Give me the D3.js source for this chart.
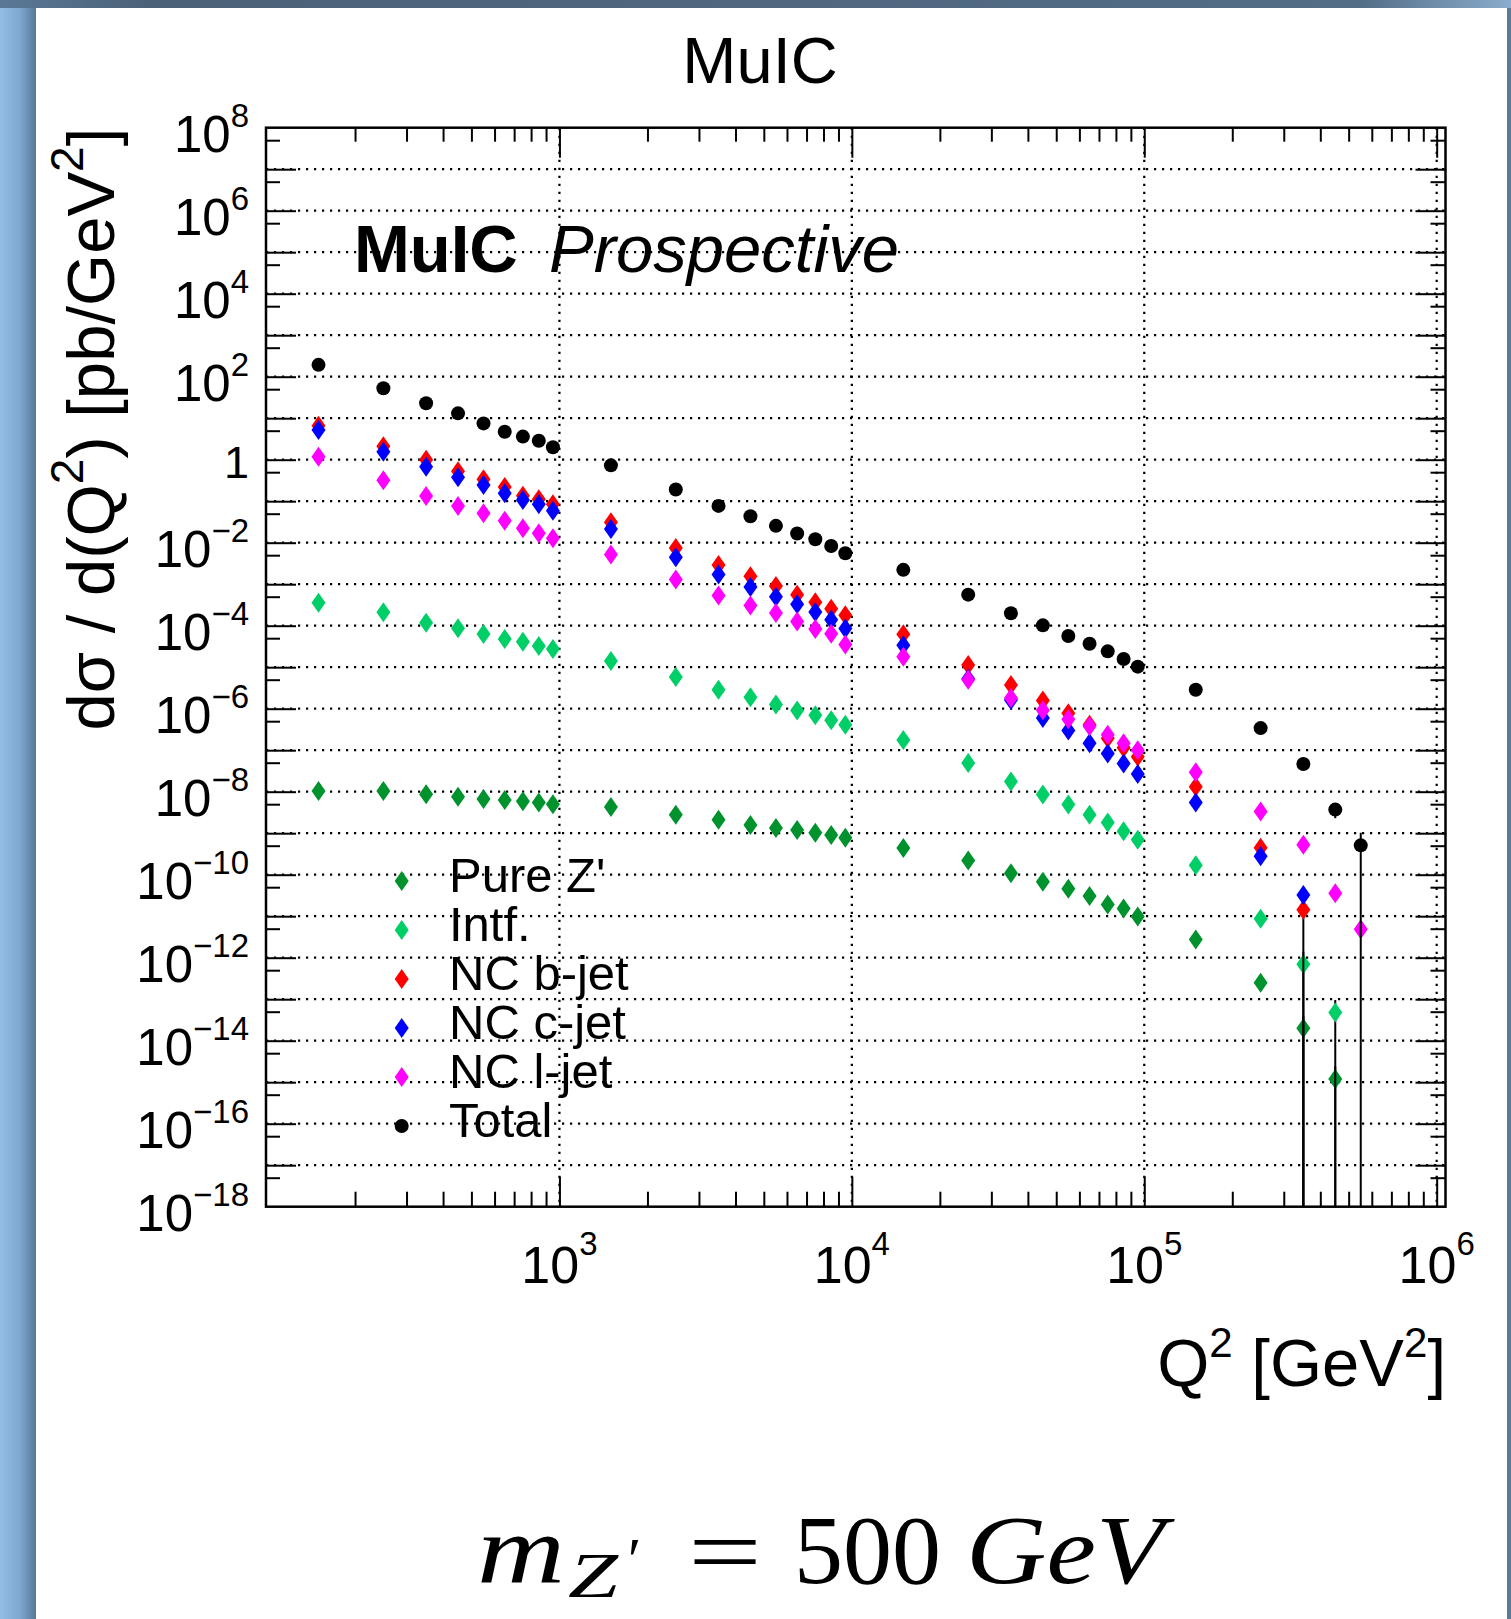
<!DOCTYPE html>
<html>
<head>
<meta charset="utf-8">
<script src="https://cdn.jsdelivr.net/npm/d3@7"></script>
<style>
  html, body { margin: 0; padding: 0; background: #fff; }
  svg { display: block; }
  text { font-family: "Liberation Sans", Arial, Helvetica, sans-serif; fill: #000; }
  .serif { font-family: "Liberation Serif", "Times New Roman", serif; }
</style>
</head>
<body>
<svg id="chart" width="1511" height="1619"></svg>
<script>
// Q^2 bin centres [GeV^2]
const q2 = [150, 250, 350, 450, 550, 650, 750, 850, 950,
            1500, 2500, 3500, 4500, 5500, 6500, 7500, 8500, 9500,
            15000, 25000, 35000, 45000, 55000, 65000, 75000, 85000, 95000,
            150000, 250000, 350000, 450000, 550000];

// dsigma/dQ^2 [pb/GeV^2] per contribution (null = empty bin)
const pureZ = [1.04e-8, 1.04e-8, 8.65e-9, 7.6e-9, 6.67e-9, 6.3e-9, 5.87e-9, 5.5e-9, 4.97e-9,
               4.25e-9, 2.79e-9, 2.11e-9, 1.57e-9, 1.33e-9, 1.19e-9, 1.03e-9, 9.05e-10, 7.8e-10,
               4.4e-10, 2.19e-10, 1.08e-10, 6.8e-11, 4.6e-11, 3.05e-11, 1.92e-11, 1.53e-11, 9.8e-12,
               2.75e-12, 2.48e-13, 2.0e-14, 1.2e-15, null];
const intf = [3.58e-4, 2.1e-4, 1.18e-4, 8.65e-5, 6.3e-5, 4.8e-5, 4.11e-5, 3.24e-5, 2.75e-5,
              1.42e-5, 5.8e-6, 2.88e-6, 1.89e-6, 1.26e-6, 9.1e-7, 6.96e-7, 5.28e-7, 4.1e-7,
              1.75e-7, 4.89e-8, 1.77e-8, 8.6e-9, 4.94e-9, 2.79e-9, 1.82e-9, 1.12e-9, 7.0e-10,
              1.7e-10, 8.65e-12, 7.0e-13, 4.8e-14, null];
const ncB = [6.6, 2.1, 1.0, 0.53, 0.34, 0.22, 0.136, 0.112, 0.085,
             0.031, 0.0075, 0.0029, 0.00155, 9.1e-4, 5.6e-4, 3.65e-4, 2.55e-4, 1.78e-4,
             6.2e-5, 1.13e-5, 3.7e-6, 1.58e-6, 7.8e-7, 4.1e-7, 1.95e-7, 1.15e-7, 7.0e-8,
             1.31e-8, 4.45e-10, 1.43e-11, null, null];
const ncC = [5.2, 1.56, 0.68, 0.377, 0.245, 0.155, 0.107, 0.085, 0.059,
             0.0215, 0.00448, 0.00172, 8.55e-4, 5.0e-4, 3.29e-4, 2.15e-4, 1.4e-4, 8.6e-5,
             3.39e-5, 5.3e-6, 1.63e-6, 6.0e-7, 2.98e-7, 1.47e-7, 8.3e-8, 4.8e-8, 2.67e-8,
             5.5e-9, 2.8e-10, 3.26e-11, null, null];
const ncL = [1.18, 0.32, 0.133, 0.0766, 0.051, 0.034, 0.0222, 0.017, 0.0128,
             0.0052, 0.0013, 5.37e-4, 3.08e-4, 2.02e-4, 1.26e-4, 8.28e-5, 6.4e-5, 3.54e-5,
             1.79e-5, 5.0e-6, 1.81e-6, 9.2e-7, 5.6e-7, 3.8e-7, 2.35e-7, 1.47e-7, 1.0e-7,
             2.93e-8, 3.33e-9, 5.3e-10, 3.58e-11, 4.87e-12];
const total = [193, 52.5, 22.9, 13.1, 7.5, 4.7, 3.6, 2.87, 2.0,
               0.73, 0.192, 0.077, 0.0435, 0.0255, 0.0167, 0.0121, 0.0083, 0.00555,
               0.00222, 5.6e-4, 2.0e-4, 1.02e-4, 5.65e-5, 3.68e-5, 2.41e-5, 1.58e-5, 1.03e-5,
               2.87e-6, 3.41e-7, 4.65e-8, 3.7e-9, 5.1e-10];

// statistical uncertainties (only the sparsely populated high-Q^2 bins are significant)
const pureZErr = [0,0,0,0,0,0,0,0,0, 0,0,0,0,0,0,0,0,0, 0,0,0,0,0,0,0,0,0, 0,0, 2.0e-14, 1.2e-15, 0];
const intfErr  = [0,0,0,0,0,0,0,0,0, 0,0,0,0,0,0,0,0,0, 0,0,0,0,0,0,0,0,0, 0,0, 7.0e-13, 4.8e-14, 0];
const ncBErr   = [0,0,0,0,0,0,0,0,0, 0,0,0,0,0,0,0,0,0, 0,0,0,0,0,0,0,0,0, 0,0, 1.43e-11, 0, 0];
const totalErr = [0,0,0,0,0,0,0,0,0, 0,0,0,0,0,0,0,0,0, 0,0,0,0,0,0,0,0,0, 0,0, 0, 1.4e-9, 5.1e-10];

const seriesNames  = ["Pure Z'", "Intf.", "NC b-jet", "NC c-jet", "NC l-jet", "Total"];
const seriesColors = ["#00922c", "#00cf68", "#ff0000", "#0000ff", "#ff00ff", "#000000"];

// axis labels: powers of ten
const yLabelExponents = [8, 6, 4, 2, 0, -2, -4, -6, -8, -10, -12, -14, -16, -18];
const xLabelExponents = [3, 4, 5, 6];

const series = [
  { values: pureZ, err: pureZErr, shape: "diamond" },
  { values: intf,  err: intfErr,  shape: "diamond" },
  { values: ncB,   err: ncBErr,   shape: "diamond" },
  { values: ncC,   err: null,     shape: "diamond" },
  { values: ncL,   err: null,     shape: "diamond" },
  { values: total, err: totalErr, shape: "circle" }
].map((s, i) => ({ ...s, name: seriesNames[i], color: seriesColors[i] }));

const svg = d3.select("#chart");
const W = 1511, H = 1619;

// ---- slide background around the figure ----
const defs = svg.append("defs");
const gl = defs.append("linearGradient").attr("id", "leftStrip").attr("x1", 0).attr("x2", 1).attr("y1", 0).attr("y2", 0);
gl.append("stop").attr("offset", "0%").attr("stop-color", "#93bde4");
gl.append("stop").attr("offset", "55%").attr("stop-color", "#7ea8d0");
gl.append("stop").attr("offset", "100%").attr("stop-color", "#587998");
const gt = defs.append("linearGradient").attr("id", "topStrip").attr("x1", 0).attr("x2", 1).attr("y1", 0).attr("y2", 0);
gt.append("stop").attr("offset", "0%").attr("stop-color", "#5a7896");
gt.append("stop").attr("offset", "10%").attr("stop-color", "#4b6178");
gt.append("stop").attr("offset", "90%").attr("stop-color", "#536d86");
gt.append("stop").attr("offset", "100%").attr("stop-color", "#8aaccd");

svg.append("rect").attr("width", W).attr("height", H).attr("fill", "#5b7a98");
svg.append("rect").attr("x", 0).attr("y", 0).attr("width", 36).attr("height", H).attr("fill", "url(#leftStrip)");
svg.append("rect").attr("x", 0).attr("y", 0).attr("width", W).attr("height", 8).attr("fill", "url(#topStrip)");
svg.append("rect").attr("x", 36).attr("y", 8).attr("width", 1471).attr("height", H - 8).attr("fill", "#ffffff");

// ---- plot frame and scales ----
const frame = { left: 266, right: 1445.5, top: 127.7, bottom: 1206.7 };
const x = d3.scaleLog().domain([99.2, 1.072e6]).range([frame.left, frame.right]);
const y = d3.scaleLog().domain([1e-18, 1e8]).range([frame.bottom, frame.top]);

// dotted grid at every decade
const gridY = d3.range(-17, 8).map(e => Math.pow(10, e));
const gridX = [1e3, 1e4, 1e5, 1e6];
const grid = svg.append("g").attr("stroke", "#000").attr("stroke-width", 2.2).attr("stroke-dasharray", "2.2 5.8");
grid.selectAll("line.gy").data(gridY).join("line").attr("class", "gy")
  .attr("x1", frame.left).attr("x2", frame.right)
  .attr("y1", d => y(d)).attr("y2", d => y(d));
grid.selectAll("line.gx").data(gridX).join("line").attr("class", "gx")
  .attr("x1", d => x(d)).attr("x2", d => x(d))
  .attr("y1", frame.top).attr("y2", frame.bottom);

// tick marks on all four sides, pointing inwards
const majY = d3.range(-17, 8).map(e => Math.pow(10, e));
const minY = d3.range(-18, 8).map(e => 5 * Math.pow(10, e));
const majX = [1e3, 1e4, 1e5, 1e6];
const minX = [];
for (let n = 2; n <= 5; n++) for (let m = 2; m <= 9; m++) minX.push(m * Math.pow(10, n));

function tickLayer(axis, values, size, tr) {
  svg.append("g").attr("transform", tr)
    .call(axis.tickValues(values).tickSize(size).tickFormat(""))
    .call(g => {
      g.select(".domain").remove();
      g.selectAll("line").attr("stroke", "#000").attr("stroke-width", 2);
      g.selectAll("text").remove();
    });
}
tickLayer(d3.axisLeft(y),   majY, -30, `translate(${frame.left},0)`);
tickLayer(d3.axisLeft(y),   minY, -14, `translate(${frame.left},0)`);
tickLayer(d3.axisRight(y),  majY, -30, `translate(${frame.right},0)`);
tickLayer(d3.axisRight(y),  minY, -15, `translate(${frame.right},0)`);
tickLayer(d3.axisBottom(x), majX, -30, `translate(0,${frame.bottom})`);
tickLayer(d3.axisBottom(x), minX, -15, `translate(0,${frame.bottom})`);
tickLayer(d3.axisTop(x),    majX, -30, `translate(0,${frame.top})`);
tickLayer(d3.axisTop(x),    minX, -14, `translate(0,${frame.top})`);

svg.append("rect")
  .attr("x", frame.left).attr("y", frame.top)
  .attr("width", frame.right - frame.left).attr("height", frame.bottom - frame.top)
  .attr("fill", "none").attr("stroke", "#000").attr("stroke-width", 2.5);

// ---- tick labels ----
const supText = e => (e < 0 ? "\u2212" + (-e) : String(e));
yLabelExponents.forEach(e => {
  const t = svg.append("text").attr("x", 249).attr("text-anchor", "end");
  if (e === 0) {
    t.attr("y", y(1) + 18.5).attr("font-size", 45).text("1");
  } else {
    t.attr("y", y(Math.pow(10, e)) + 24.5).attr("font-size", 51);
    t.append("tspan").text("10");
    t.append("tspan").attr("dy", -25).attr("font-size", 33).text(supText(e));
  }
});
xLabelExponents.forEach(e => {
  const t = svg.append("text").attr("x", x(Math.pow(10, e))).attr("y", 1283.3)
    .attr("text-anchor", "middle").attr("font-size", 52);
  t.append("tspan").text("10");
  t.append("tspan").attr("dy", -28).attr("font-size", 33).text(supText(e));
});

// ---- axis titles and captions ----
svg.append("text").attr("x", 760).attr("y", 83).attr("text-anchor", "middle")
  .attr("font-size", 65).text("MuIC");

const yt = svg.append("text").attr("transform", `translate(114,${frame.top}) rotate(-90)`)
  .attr("text-anchor", "end").attr("font-size", 67);
yt.append("tspan").text("d\u03c3 / d(Q");
yt.append("tspan").attr("dy", -31).attr("font-size", 46).text("2");
yt.append("tspan").attr("dy", 31).text(") [pb/GeV");
yt.append("tspan").attr("dy", -31).attr("font-size", 46).text("2");
yt.append("tspan").attr("dy", 31).text("]");

const xt = svg.append("text").attr("x", 1446).attr("y", 1386).attr("text-anchor", "end").attr("font-size", 67);
xt.append("tspan").text("Q");
xt.append("tspan").attr("dy", -29).attr("font-size", 42).text("2");
xt.append("tspan").attr("dy", 29).text(" [GeV");
xt.append("tspan").attr("dy", -29).attr("font-size", 42).text("2");
xt.append("tspan").attr("dy", 29).text("]");

svg.append("text").attr("x", 354).attr("y", 271.7).attr("font-size", 67)
  .attr("font-weight", "bold").text("MuIC");
svg.append("text").attr("x", 549).attr("y", 271.7).attr("font-size", 67)
  .attr("font-style", "italic").text("Prospective");

// ---- markers ----
const diamond = "M0,-10 L7,0 L0,10 L-7,0 Z";
function drawMarker(g, shape, color) {
  if (shape === "circle") g.append("circle").attr("r", 7).attr("fill", color);
  else g.append("path").attr("d", diamond).attr("fill", color);
}

const plot = svg.append("g");
series.forEach(s => {
  const pts = q2.map((q, i) => ({ q, v: s.values[i], e: s.err ? s.err[i] : 0 }))
    .filter(d => d.v != null && d.v > 0);
  // error bars (a downward fluctuation reaching zero runs to the frame bottom)
  plot.append("g").selectAll("line").data(pts.filter(d => d.e > 0)).join("line")
    .attr("x1", d => x(d.q)).attr("x2", d => x(d.q))
    .attr("y1", d => y(d.v + d.e))
    .attr("y2", d => (d.v - d.e > 1e-18 ? y(d.v - d.e) : frame.bottom))
    .attr("stroke", "#000").attr("stroke-width", 2);
  plot.append("g").selectAll("g").data(pts).join("g")
    .attr("transform", d => `translate(${x(d.q)},${y(d.v)})`)
    .each(function () { drawMarker(d3.select(this), s.shape, s.color); });
});

// ---- legend ----
const legend = svg.append("g");
series.forEach((s, i) => {
  const cy = 881 + i * 49;
  drawMarker(legend.append("g").attr("transform", `translate(401.7,${cy})`), s.shape, s.color);
  legend.append("text").attr("x", 449).attr("y", cy + 10.5).attr("font-size", 49).text(s.name);
});

// ---- mass caption ----
const cap = svg.append("g");
cap.append("text").attr("class", "serif").attr("x", 477).attr("y", 1582).attr("font-size", 98)
  .attr("font-style", "italic").attr("textLength", 88).attr("lengthAdjust", "spacingAndGlyphs").text("m");
cap.append("text").attr("class", "serif").attr("x", 568).attr("y", 1596.5).attr("font-size", 64)
  .attr("font-style", "italic").attr("textLength", 50).attr("lengthAdjust", "spacingAndGlyphs").text("Z");
cap.append("text").attr("class", "serif").attr("x", 624).attr("y", 1580).attr("font-size", 62)
  .attr("font-style", "italic").text("\u2032");
cap.append("text").attr("class", "serif").attr("x", 688).attr("y", 1584).attr("font-size", 98)
  .attr("textLength", 74).attr("lengthAdjust", "spacingAndGlyphs").text("=");
cap.append("text").attr("class", "serif").attr("x", 794).attr("y", 1583.3).attr("font-size", 98)
  .attr("textLength", 147).attr("lengthAdjust", "spacingAndGlyphs").text("500");
cap.append("text").attr("class", "serif").attr("x", 966).attr("y", 1583.3).attr("font-size", 98)
  .attr("font-style", "italic").attr("textLength", 198).attr("lengthAdjust", "spacingAndGlyphs").text("GeV");
</script>
</body>
</html>
